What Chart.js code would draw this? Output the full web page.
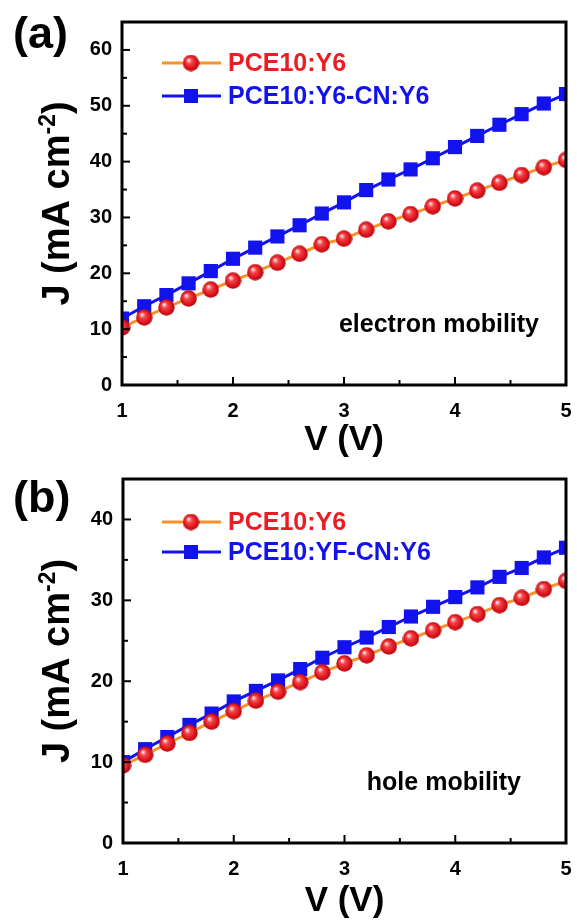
<!DOCTYPE html>
<html>
<head>
<meta charset="utf-8">
<script src="https://cdn.jsdelivr.net/npm/chart.js@4.4.1/dist/chart.umd.min.js"></script>
<style>
  html, body { margin: 0; padding: 0; background: #fff; }
  .panel { position: absolute; left: 0; width: 577px; height: 461px; }
</style>
</head>
<body>
<div class="panel" style="top:0"><canvas id="chartA" width="577" height="461"></canvas></div>
<div class="panel" style="top:461px"><canvas id="chartB" width="577" height="461"></canvas></div>
<script>
// voltage sweep (V)
var voltage = [1.0, 1.2, 1.4, 1.6, 1.8, 2.0, 2.2, 2.4, 2.6, 2.8, 3.0, 3.2, 3.4, 3.6, 3.8, 4.0, 4.2, 4.4, 4.6, 4.8, 5.0];

// (a) electron-only devices, J in mA cm-2
var electronRef = [10.3, 12.1, 13.9, 15.5, 17.1, 18.7, 20.2, 21.9, 23.5, 25.2, 26.2, 27.8, 29.3, 30.6, 32.0, 33.4, 34.8, 36.2, 37.6, 39.0, 40.3];
var electronCN = [11.9, 14.1, 16.1, 18.2, 20.4, 22.6, 24.6, 26.6, 28.6, 30.7, 32.7, 34.9, 36.8, 38.6, 40.6, 42.6, 44.6, 46.6, 48.5, 50.4, 52.1];

// (b) hole-only devices
var holeRef = [9.6, 10.9, 12.3, 13.6, 15.0, 16.3, 17.6, 18.7, 19.9, 21.1, 22.2, 23.2, 24.3, 25.3, 26.3, 27.3, 28.3, 29.4, 30.3, 31.4, 32.4];
var holeCN = [10.0, 11.6, 13.1, 14.6, 16.0, 17.5, 18.8, 20.1, 21.5, 22.9, 24.2, 25.4, 26.7, 28.0, 29.2, 30.4, 31.6, 32.9, 34.0, 35.3, 36.5];

var xTicks = [1, 2, 3, 4, 5];
var yTicksA = [0, 10, 20, 30, 40, 50, 60];
var yTicksB = [0, 10, 20, 30, 40];
var legendA = ['PCE10:Y6', 'PCE10:Y6-CN:Y6'];
var legendB = ['PCE10:Y6', 'PCE10:YF-CN:Y6'];

var FONT = '"Liberation Sans", Arial, sans-serif';
var RED = '#ec1c24', ORANGE = '#f7922e', BLUE = '#1212ee';

// shaded red ball used as marker
var ball = document.createElement('canvas');
ball.width = 17; ball.height = 17;
(function () {
    var c = ball.getContext('2d');
    var g = c.createRadialGradient(6, 5.5, 0.5, 8.5, 8.5, 8.5);
    g.addColorStop(0, '#ffe4e4');
    g.addColorStop(0.3, '#f4464a');
    g.addColorStop(0.75, '#dc1018');
    g.addColorStop(1, '#a80810');
    c.fillStyle = g;
    c.beginPath();
    c.arc(8.5, 8.5, 8.2, 0, Math.PI * 2);
    c.fill();
})();

function line(ctx, x1, y1, x2, y2) {
    ctx.beginPath();
    ctx.moveTo(x1, y1);
    ctx.lineTo(x2, y2);
    ctx.stroke();
}

var framePlugin = {
    id: 'frame',
    afterDraw: function (chart, args, o) {
        var ctx = chart.ctx, a = chart.chartArea;
        var xs = chart.scales.x, ys = chart.scales.y;
        ctx.save();
        ctx.strokeStyle = '#000';
        ctx.lineWidth = 2;
        // inward ticks, major + minor
        o.yTicks.forEach(function (v) {
            var p = ys.getPixelForValue(v);
            line(ctx, a.left, p, a.left + 8, p);
            var m = ys.getPixelForValue(v + 5);
            if (v + 5 < ys.max) line(ctx, a.left, m, a.left + 5, m);
        });
        xTicks.forEach(function (v) {
            var p = xs.getPixelForValue(v);
            line(ctx, p, a.bottom, p, a.bottom - 8);
            if (v + 0.5 < xs.max) {
                var m = xs.getPixelForValue(v + 0.5);
                line(ctx, m, a.bottom, m, a.bottom - 5);
            }
        });
        ctx.lineWidth = 3;
        ctx.strokeRect(a.left, a.top, a.right - a.left, a.bottom - a.top);

        // panel letter
        ctx.fillStyle = '#000';
        ctx.textBaseline = 'middle';
        ctx.textAlign = 'left';
        ctx.font = 'bold 45px ' + FONT;
        ctx.fillText(o.letter, 13, o.letterY);

        // y title with superscript
        ctx.save();
        ctx.translate(56, (a.top + a.bottom) / 2);
        ctx.rotate(-Math.PI / 2);
        var big = 'bold 38px ' + FONT, small = 'bold 23px ' + FONT;
        ctx.font = big;
        var w1 = ctx.measureText('J (mA cm').width, w3 = ctx.measureText(')').width;
        ctx.font = small;
        var w2 = ctx.measureText('-2').width;
        var x0 = -(w1 + w2 + w3) / 2;
        ctx.textBaseline = 'alphabetic';
        ctx.font = big;
        ctx.fillText('J (mA cm', x0, 13);
        ctx.font = small;
        ctx.fillText('-2', x0 + w1, -1);
        ctx.font = big;
        ctx.fillText(')', x0 + w1 + w2, 13);
        ctx.restore();

        // legend: line + marker + coloured label
        ctx.font = 'bold 25px ' + FONT;
        ctx.textBaseline = 'middle';
        chart.data.datasets.forEach(function (ds, i) {
            var yy = o.legendY[i];
            ctx.strokeStyle = ds.borderColor;
            ctx.lineWidth = 3;
            line(ctx, 162, yy, 221, yy);
            if (i === 0) {
                ctx.drawImage(ball, 191 - 8.5, yy - 8.5);
            } else {
                ctx.fillStyle = BLUE;
                ctx.fillRect(184, yy - 7, 14, 14);
            }
            ctx.fillStyle = i === 0 ? RED : BLUE;
            ctx.fillText(ds.label, 228, yy + 1);
        });

        // note
        ctx.fillStyle = '#000';
        ctx.font = 'bold 25px ' + FONT;
        ctx.textAlign = 'right';
        ctx.fillText(o.note, o.noteX, o.noteY);
        ctx.restore();
    }
};

function makePanel(id, refData, cnData, labels, yTicks, yMax, box, extra) {
    var ctx = document.getElementById(id).getContext('2d');
    return new Chart(ctx, {
        type: 'line',
        data: {
            datasets: [{
                label: labels[0],
                data: voltage.map(function (v, i) { return { x: v, y: refData[i] }; }),
                borderColor: ORANGE,
                borderWidth: 3,
                pointStyle: ball,
                pointRadius: 8,
                clip: 1
            }, {
                label: labels[1],
                data: voltage.map(function (v, i) { return { x: v, y: cnData[i] }; }),
                borderColor: BLUE,
                backgroundColor: BLUE,
                borderWidth: 3,
                pointStyle: 'rect',
                pointRadius: 10,
                pointBorderWidth: 0,
                clip: 1
            }]
        },
        options: {
            responsive: false,
            animation: false,
            layout: { padding: { top: box.top, right: 8, left: 0, bottom: 0 } },
            plugins: {
                legend: { display: false },
                tooltip: { enabled: false },
                frame: extra
            },
            scales: {
                x: {
                    type: 'linear',
                    min: 1, max: 5,
                    grid: { display: false, drawTicks: false },
                    border: { display: false },
                    afterBuildTicks: function (s) { s.ticks = xTicks.map(function (v) { return { value: v }; }); },
                    afterFit: function (s) {
                        s.height = box.xHeight;
                        s.paddingLeft = 0;
                        s.paddingRight = 0;
                    },
                    ticks: {
                        color: '#000', padding: 14, maxRotation: 0,
                        font: { family: FONT, size: 20, weight: 'bold' }
                    },
                    title: {
                        display: true, text: 'V (V)', color: '#000',
                        padding: { top: 0, bottom: 0 },
                        font: { family: FONT, size: 35, weight: 'bold' }
                    }
                },
                y: {
                    min: 0, max: yMax,
                    grid: { display: false, drawTicks: false },
                    border: { display: false },
                    afterBuildTicks: function (s) { s.ticks = yTicks.map(function (v) { return { value: v }; }); },
                    afterFit: function (s) {
                        s.width = box.left;
                        s.paddingTop = 0;
                        s.paddingBottom = 0;
                    },
                    ticks: {
                        color: '#000', padding: 10,
                        font: { family: FONT, size: 20, weight: 'bold' }
                    }
                }
            }
        },
        plugins: [framePlugin]
    });
}

makePanel('chartA', electronRef, electronCN, legendA, yTicksA, 65,
    { top: 22, left: 122, xHeight: 76 },
    { yTicks: yTicksA, letter: '(a)', letterY: 36, legendY: [63, 96], note: 'electron mobility', noteX: 539, noteY: 325 });

makePanel('chartB', holeRef, holeCN, legendB, yTicksB, 45,
    { top: 18, left: 123, xHeight: 79 },
    { yTicks: yTicksB, letter: '(b)', letterY: 39, legendY: [61, 91], note: 'hole mobility', noteX: 521, noteY: 322 });
</script>
</body>
</html>
